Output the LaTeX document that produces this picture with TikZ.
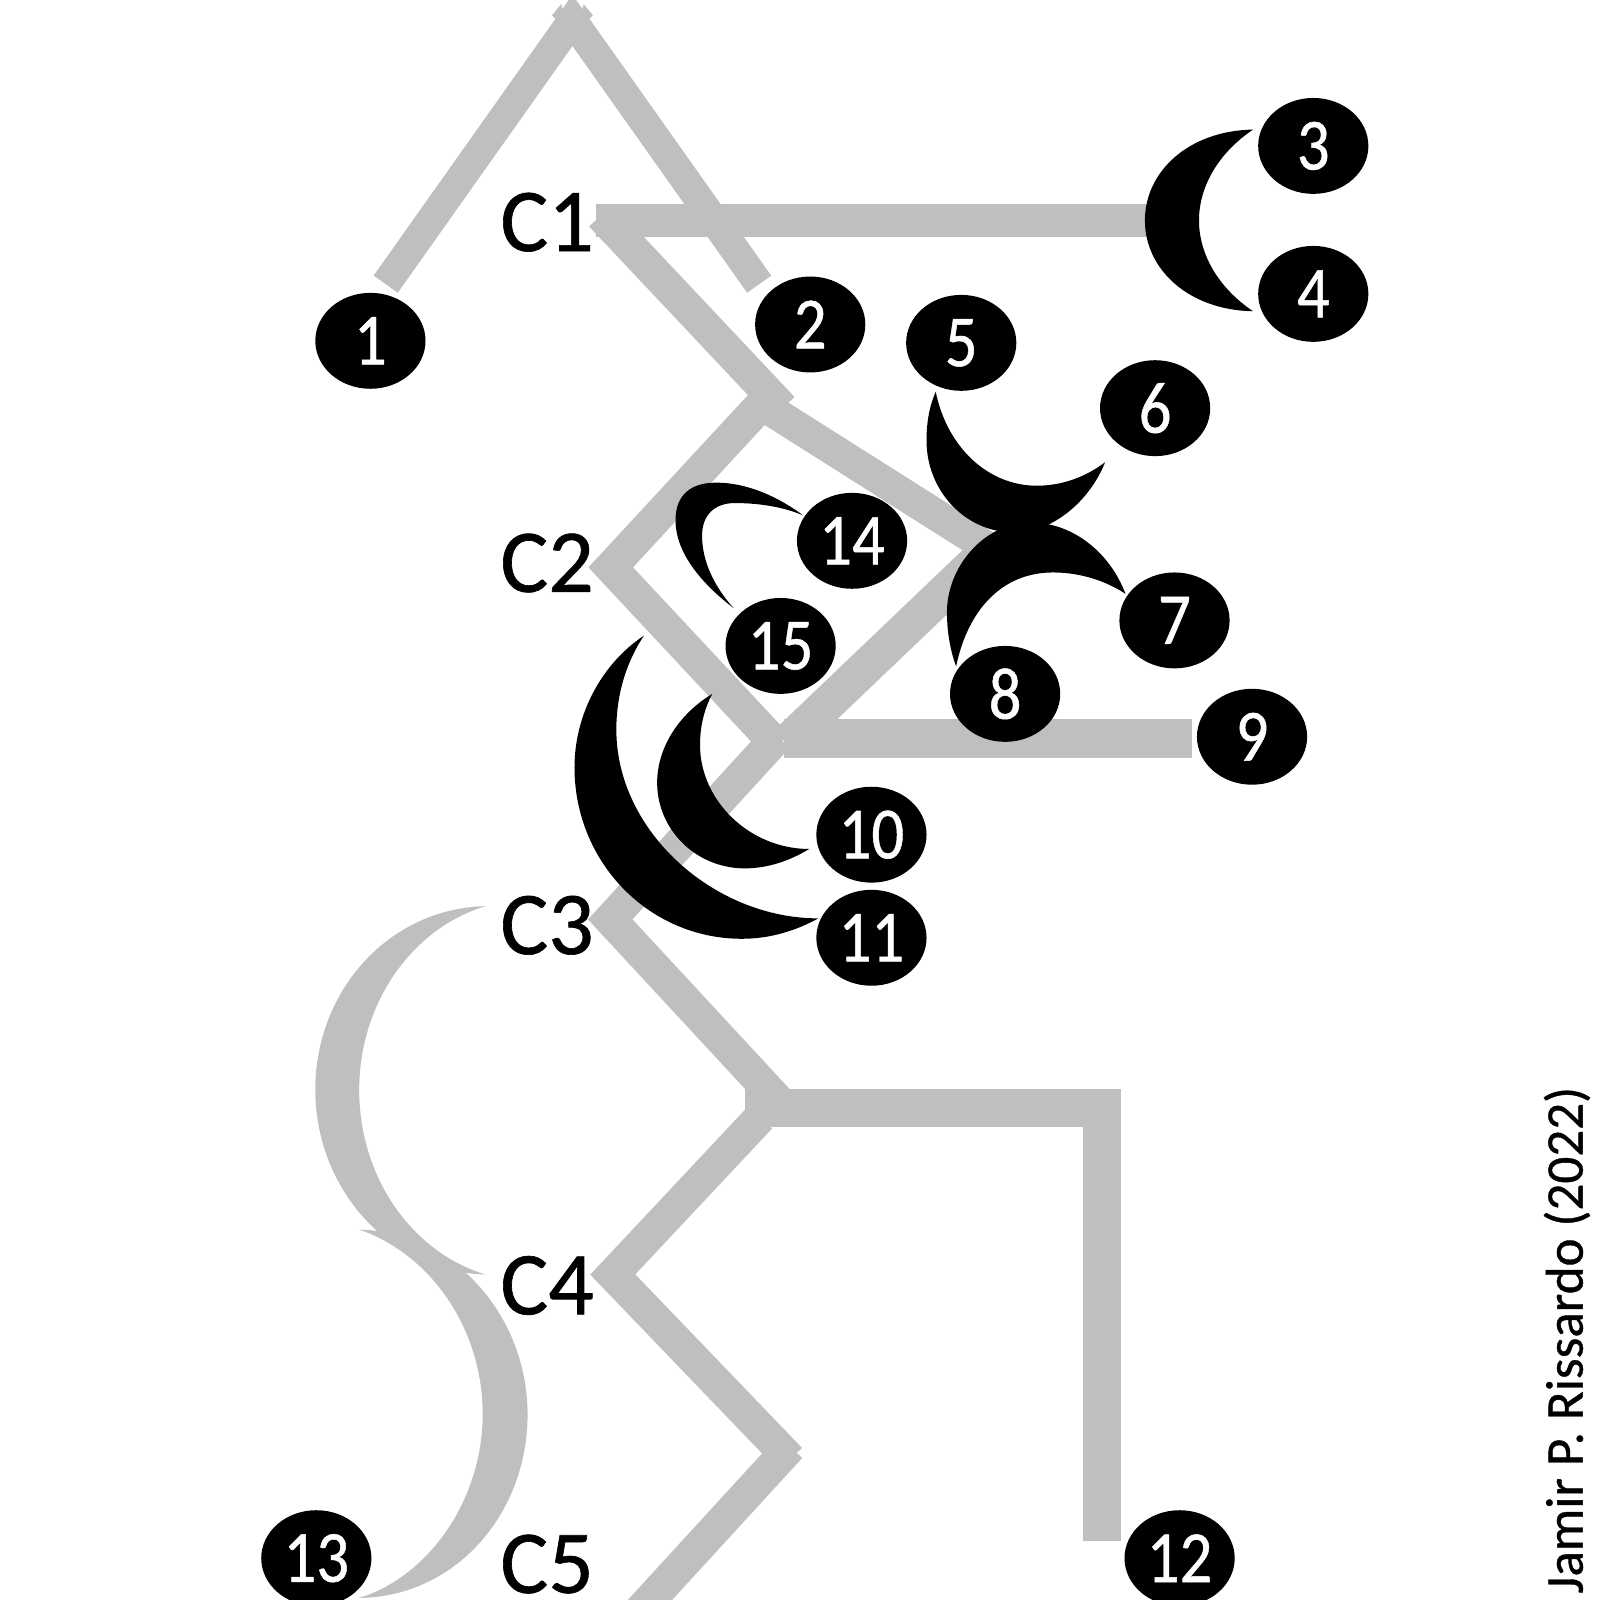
\documentclass[tikz,border=0pt]{standalone}
\usepackage{fontspec}
\setmainfont[RawFeature={embolden=0.7}]{Carlito}
\usepackage{graphicx}
\usetikzlibrary{shapes.geometric}
\definecolor{lg}{HTML}{BFBFBF}
\newcommand{\dig}[1]{\scalebox{0.88}[1]{#1}}
\tikzset{
  bond/.style={draw=lg,line width=14.5pt,miter limit=20,line join=miter},
  chain/.style={draw=lg,line width=16pt,miter limit=20,line join=miter},
  wide/.style={draw=lg,line width=18.5pt,miter limit=20,line join=miter},
  atom/.style={ellipse,fill=black,text=white,minimum width=54pt,minimum height=47pt,inner sep=0pt,font=\fontsize{36}{36}\selectfont},
  clabel/.style={anchor=base west,inner sep=0pt,text=black,font=\fontsize{44}{44}\selectfont},
  blackc/.style={fill=black,draw=none},
  grayc/.style={fill=lg,draw=none}
}
\begin{document}
\begin{tikzpicture}[x=0.5pt,y=-0.5pt]
\useasboundingbox (0,0) rectangle (1568,1568);
\clip (0,0) rectangle (1568,1568);
% grey chain
\draw[bond] (378,278.5)--(561,20)--(744,278.5);
\fill[lg] (541,15)--(550,4)--(556,30)--cycle;
\fill[lg] (581,15)--(572,4)--(566,30)--cycle;
\draw[chain] (584,216)--(1125,216);
\draw[chain] (589,211)--(767,400);
\draw[chain] (746.6,396)--(598.5,556)--(762,731);
\draw[chain,line width=15.5pt] (757,403)--(975,541);
\draw[bond,line width=17.5pt] (773,726)--(975,533);
\draw[wide,line width=19pt] (768,724)--(1168,724);
\draw[chain] (762,722)--(598,901)--(762,1078);
\draw[chain] (745,1095)--(600.5,1249)--(774.4,1430);
\draw[chain] (774.4,1418)--(614,1593);
\draw[wide] (730,1086)--(1080,1086)--(1080,1510);
% grey crescents
\fill[grayc] (476,888) .. controls (382,890) and (309,970) .. (309,1068) .. controls (309,1165) and (382,1247) .. (476,1249) .. controls (405,1228) and (352,1155) .. (352,1068) .. controls (352,982) and (405,909) .. (476,888) -- cycle;
\fill[grayc] (352,1205) .. controls (445,1207) and (517,1290) .. (517,1386) .. controls (517,1485) and (445,1565) .. (352,1566) .. controls (420,1545) and (473,1470) .. (473,1386) .. controls (473,1300) and (420,1228) .. (352,1205) -- cycle;
% black crescents
\fill[blackc] (1228,127) .. controls (1165,128) and (1122,168) .. (1122,216) .. controls (1122,264) and (1165,304) .. (1228,305) .. controls (1195,283) and (1175,250) .. (1175,216) .. controls (1175,182) and (1195,149) .. (1228,127) -- cycle;
\fill[blackc] (917,384) .. controls (910,400) and (908,416) .. (908,432) .. controls (908,480) and (945,522) .. (995,522) .. controls (1028,522) and (1066,495) .. (1083,453) .. controls (1063,468) and (1040,476) .. (1016,476) .. controls (968,476) and (928,438) .. (917,384) -- cycle;
\fill[blackc] (937,653) .. controls (931,637) and (928,618) .. (928,600) .. controls (928,555) and (965,512) .. (1010,512) .. controls (1050,512) and (1087,540) .. (1103,582) .. controls (1085,570) and (1060,561) .. (1032,561) .. controls (980,561) and (948,600) .. (937,653) -- cycle;
\fill[blackc] (787,505) .. controls (760,485) and (730,473) .. (702,473) .. controls (678,473) and (662,484) .. (662,510) .. controls (662,540) and (685,570) .. (719,596) .. controls (700,575) and (688,550) .. (688,525) .. controls (688,505) and (700,493) .. (720,493) .. controls (745,493) and (768,497) .. (787,505) -- cycle;
\fill[blackc] (631,623) .. controls (590,650) and (563,700) .. (563,752) .. controls (563,845) and (636,920) .. (727,920) .. controls (755,920) and (780,912) .. (802,900) .. controls (700,900) and (604,815) .. (604,715) .. controls (604,682) and (613,650) .. (631,623) -- cycle;
\fill[blackc] (698,680) .. controls (665,700) and (644,733) .. (644,767) .. controls (644,813) and (682,851) .. (730,851) .. controls (753,851) and (775,843) .. (793,832) .. controls (735,832) and (686,785) .. (686,730) .. controls (686,712) and (690,695) .. (698,680) -- cycle;
% numbered atoms
\node[atom] (n1) at (363,334) {\dig{1}};
\node[atom] (n2) at (794,318) {\dig{2}};
\node[atom] (n3) at (1287,143) {\dig{3}};
\node[atom] (n4) at (1287,288) {\dig{4}};
\node[atom] (n5) at (942,336) {\dig{5}};
\node[atom] (n6) at (1132,400) {\dig{6}};
\node[atom] (n7) at (1151,608) {\dig{7}};
\node[atom] (n8) at (985,680) {\dig{8}};
\node[atom] (n9) at (1227,722) {\dig{9}};
\node[atom] (n10) at (854,818) {\dig{10}};
\node[atom] (n11) at (854,919) {\dig{11}};
\node[atom] (n12) at (1156,1527) {\dig{12}};
\node[atom] (n13) at (310,1527) {\dig{13}};
\node[atom] (n14) at (835,530) {\dig{14}};
\node[atom] (n15) at (765,633) {\dig{15}};
% carbon labels
\node[clabel] (c1) at (490,246) {C1};
\node[clabel] (c2) at (490,580) {C2};
\node[clabel] (c3) at (490,935) {C3};
\node[clabel] (c4) at (490,1288) {C4};
\node[clabel] (c5) at (490,1561) {C5};
\node[anchor=base west,rotate=90,inner sep=0pt,font=\fontsize{26}{26}\selectfont] (auth) at (1551,1562) {Jamir P. Rissardo (2022)};
\end{tikzpicture}
\end{document}
